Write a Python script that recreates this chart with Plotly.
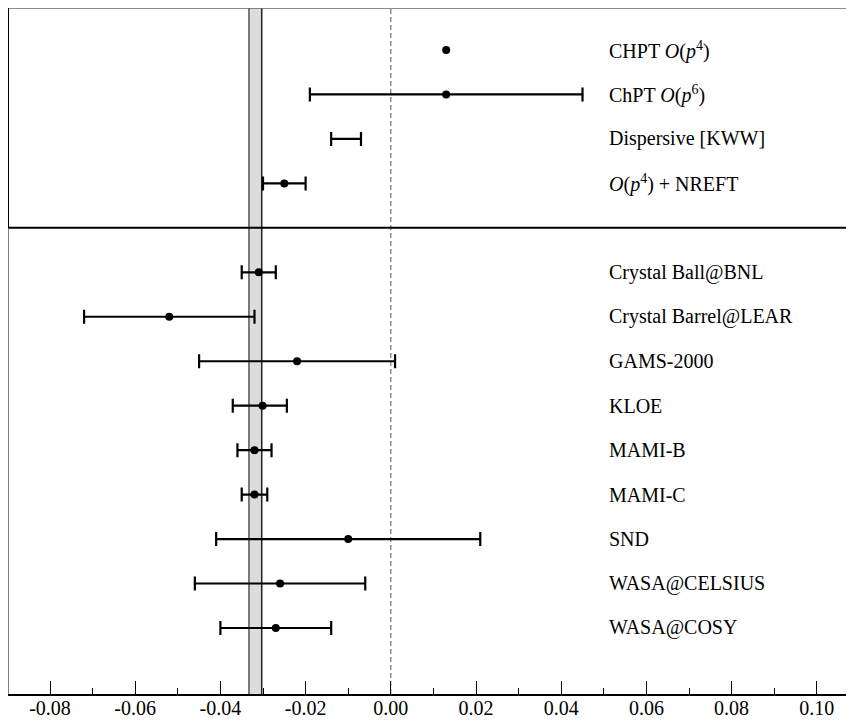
import plotly.graph_objects as go

# ---------------- data ----------------
theory_labels = ["CHPT <i>O</i>(<i>p</i><sup>4</sup>)",
                 "ChPT <i>O</i>(<i>p</i><sup>6</sup>)",
                 "Dispersive [KWW]",
                 "<i>O</i>(<i>p</i><sup>4</sup>) + NREFT"]
theory_val = [0.013, 0.013, -0.0105, -0.025]
theory_err_plus = [0.0, 0.032, 0.0035, 0.005]
theory_err_minus = [0.0, 0.032, 0.0035, 0.005]
theory_has_point = [True, True, False, True]
theory_has_bar = [False, True, True, True]

exp_labels = ["Crystal Ball@BNL", "Crystal Barrel@LEAR", "GAMS-2000", "KLOE",
              "MAMI-B", "MAMI-C", "SND", "WASA@CELSIUS", "WASA@COSY"]
exp_val = [-0.031, -0.052, -0.022, -0.0301, -0.032, -0.032, -0.010, -0.026, -0.027]
exp_err_plus = [0.004, 0.020, 0.023, 0.0057, 0.004, 0.003, 0.031, 0.020, 0.013]
exp_err_minus = [0.004, 0.020, 0.023, 0.0070, 0.004, 0.003, 0.031, 0.020, 0.013]

pdg_val = -0.0318
pdg_err = 0.0015

tick_vals = [-0.08, -0.06, -0.04, -0.02, 0.00, 0.02, 0.04, 0.06, 0.08, 0.10]
tick_text = ["-0.08", "-0.06", "-0.04", "-0.02", "0.00", "0.02", "0.04", "0.06", "0.08", "0.10"]

# ---------------- layout helpers ----------------
n_top = len(theory_labels)
y_top = list(range(n_top))
y_exp = [n_top + 1 + i for i in range(len(exp_labels))]
sep_y = n_top
y_min, y_max = -0.945, y_exp[-1] + 1.485

FONT = "Liberation Serif, Times New Roman, serif"

fig = go.Figure()

# error bars (no visible markers)
bx, by, bp, bm = [], [], [], []
for v, y, p, m, hb in zip(theory_val, y_top, theory_err_plus, theory_err_minus, theory_has_bar):
    if hb:
        bx.append(v); by.append(y); bp.append(p); bm.append(m)
for v, y, p, m in zip(exp_val, y_exp, exp_err_plus, exp_err_minus):
    bx.append(v); by.append(y); bp.append(p); bm.append(m)

fig.add_trace(go.Scatter(
    x=bx, y=by, mode="markers",
    marker=dict(size=1, color="black", opacity=0),
    error_x=dict(type="data", symmetric=False, array=bp, arrayminus=bm,
                 color="black", thickness=2.2, width=7),
    showlegend=False, hoverinfo="skip"))

# markers
px_, py_ = [], []
for v, y, hp in zip(theory_val, y_top, theory_has_point):
    if hp:
        px_.append(v); py_.append(y)
px_ += exp_val
py_ += y_exp
fig.add_trace(go.Scatter(
    x=px_, y=py_, mode="markers",
    marker=dict(size=8, color="black"),
    showlegend=False, hoverinfo="skip"))

# labels
label_x = 0.0507
for lab, y in zip(theory_labels + exp_labels, y_top + y_exp):
    fig.add_annotation(x=label_x, y=y, xref="x", yref="y", text=lab,
                       showarrow=False, xanchor="left", yanchor="middle",
                       font=dict(family=FONT, size=20, color="black"))

shapes = []
# PDG band
shapes.append(dict(type="rect", xref="x", yref="paper",
                   x0=pdg_val - pdg_err, x1=pdg_val + pdg_err, y0=0, y1=1,
                   fillcolor="#dcdcdc", line=dict(width=0), layer="below"))
shapes.append(dict(type="line", xref="x", yref="paper",
                   x0=pdg_val - pdg_err, x1=pdg_val - pdg_err, y0=0, y1=1,
                   line=dict(color="#555555", width=1.5), layer="below"))
shapes.append(dict(type="line", xref="x", yref="paper",
                   x0=pdg_val + pdg_err, x1=pdg_val + pdg_err, y0=0, y1=1,
                   line=dict(color="#222222", width=1.5), layer="below"))
# zero dashed line
shapes.append(dict(type="line", xref="x", yref="paper", x0=0, x1=0, y0=0, y1=1,
                   line=dict(color="#555555", width=1, dash="5px,3px"), layer="below"))
# separator
shapes.append(dict(type="line", xref="paper", yref="y", x0=0, x1=1, y0=sep_y, y1=sep_y,
                   line=dict(color="black", width=2)))
# top border
shapes.append(dict(type="line", xref="paper", yref="paper", x0=0, x1=1, y0=1, y1=1,
                   line=dict(color="#666666", width=1.5)))
# left border
shapes.append(dict(type="line", xref="paper", yref="y", x0=0, x1=0, y0=y_min, y1=sep_y,
                   line=dict(color="black", width=2)))
shapes.append(dict(type="line", xref="paper", yref="y", x0=0, x1=0, y0=sep_y, y1=y_max,
                   line=dict(color="#555555", width=1.5)))

fig.update_layout(
    width=846, height=713,
    margin=dict(l=0, r=0, t=0, b=27, autoexpand=False),
    paper_bgcolor="white", plot_bgcolor="white",
    shapes=shapes,
    font=dict(family=FONT, size=20, color="black"),
    xaxis=dict(range=[-0.08986, 0.10873], tickvals=tick_vals, ticktext=tick_text,
               ticks="inside", ticklen=13, tickwidth=1.2, tickcolor="black",
               showline=True, linecolor="black", linewidth=2,
               showgrid=False, zeroline=False, automargin=False,
               ticklabelstandoff=-5,
               tickfont=dict(family=FONT, size=20, color="black"),
               minor=dict(dtick=0.01, tick0=0, ticks="inside", ticklen=6,
                          tickwidth=1.2, tickcolor="black", showgrid=False)),
    yaxis=dict(range=[y_max, y_min], showticklabels=False, ticks="",
               showgrid=False, zeroline=False, showline=False, automargin=False),
)

fig.write_html("out.html")
